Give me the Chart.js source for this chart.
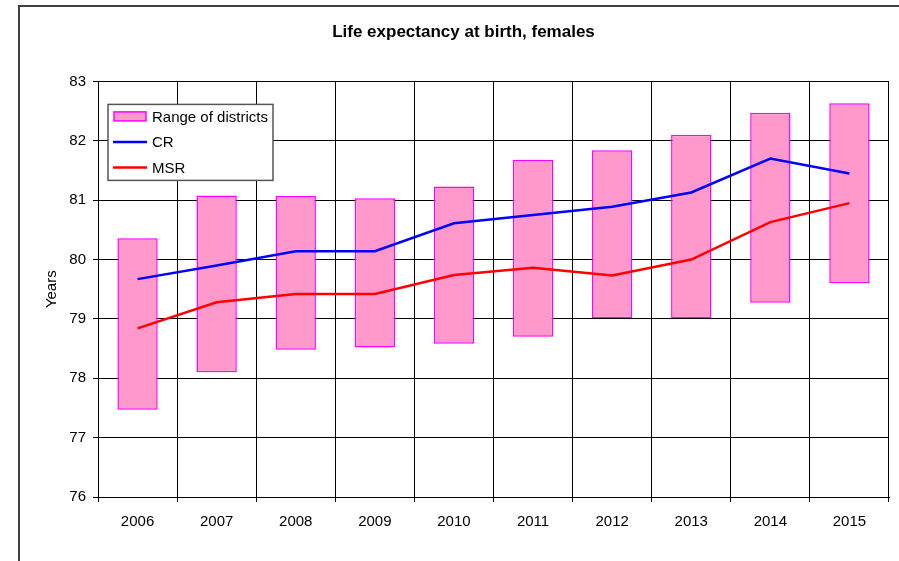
<!DOCTYPE html>
<html>
<head>
<meta charset="utf-8">
<title>Life expectancy at birth, females</title>
<script src="https://cdn.jsdelivr.net/npm/chart.js@4.4.0/dist/chart.umd.min.js"></script>
<style>
    html, body { margin: 0; padding: 0; background: #fff; }
    #wrap { width: 899px; height: 561px; position: relative; }
</style>
</head>
<body>
<div id="wrap"><canvas id="lifeExp"></canvas></div>
<script>
// datos
const years = ['2006', '2007', '2008', '2009', '2010', '2011', '2012', '2013', '2014', '2015'];
const rangeLow = [77.47, 78.10, 78.48, 78.52, 78.58, 78.70, 79.01, 79.01, 79.27, 79.60];
const rangeHigh = [80.36, 81.08, 81.07, 81.03, 81.23, 81.68, 81.84, 82.10, 82.47, 82.63];
const crValues = [79.67, 79.90, 80.14, 80.14, 80.61, 80.75, 80.89, 81.13, 81.70, 81.45];
const msrValues = [78.84, 79.28, 79.42, 79.42, 79.74, 79.86, 79.73, 80.00, 80.63, 80.95];

const fontFamily = '"Liberation Sans", Arial, sans-serif';
Chart.defaults.color = '#000';
Chart.defaults.font.family = fontFamily;

// marco exterior del grafico
const framePlugin = {
    id: 'frame',
    beforeDraw(chart) {
        const ctx = chart.ctx;
        ctx.save();
        ctx.fillStyle = '#fff';
        ctx.fillRect(0, 0, chart.width, chart.height);
        ctx.strokeStyle = '#404040';
        ctx.lineWidth = 2;
        ctx.beginPath();
        ctx.moveTo(chart.width, 6);
        ctx.lineTo(19, 6);
        ctx.lineTo(19, chart.height);
        ctx.stroke();
        ctx.restore();
    }
};

// leyenda dentro del area del grafico, con recuadro
const boxLegend = {
    id: 'boxLegend',
    afterDatasetsDraw(chart) {
        const ctx = chart.ctx;
        const area = chart.chartArea;
        const x = area.left + 10;
        const y = area.top + 23;
        const w = 165;
        const h = 76;
        ctx.save();
        ctx.fillStyle = '#fff';
        ctx.fillRect(x, y, w, h);
        ctx.strokeStyle = '#555';
        ctx.lineWidth = 1.5;
        ctx.strokeRect(x, y, w, h);
        ctx.font = '15px ' + fontFamily;
        ctx.textBaseline = 'middle';
        ctx.fillStyle = '#000';
        const items = chart.data.datasets;
        // orden: barras, CR, MSR
        items.forEach((ds, i) => {
            const cy = y + 12 + i * 25.5;
            if (ds.type === 'bar') {
                ctx.fillStyle = ds.backgroundColor;
                ctx.fillRect(x + 6, cy - 4.5, 32, 9);
                ctx.strokeStyle = ds.borderColor;
                ctx.lineWidth = 1.5;
                ctx.strokeRect(x + 6, cy - 4.5, 32, 9);
            } else {
                ctx.strokeStyle = ds.borderColor;
                ctx.lineWidth = 2.5;
                ctx.beginPath();
                ctx.moveTo(x + 5, cy);
                ctx.lineTo(x + 39, cy);
                ctx.stroke();
            }
            ctx.fillStyle = '#000';
            ctx.fillText(ds.label, x + 44, cy + 1);
        });
        ctx.restore();
    }
};

let ctx = document.getElementById('lifeExp');
new Chart(ctx, {
    data: {
        labels: years,
        datasets: [
            {
                type: 'bar',
                label: 'Range of districts',
                data: years.map((y, i) => [rangeLow[i], rangeHigh[i]]),
                backgroundColor: '#FF99CC',
                borderColor: '#FF00FF',
                borderWidth: 1.5,
                borderSkipped: false,
                barPercentage: 0.51,
                categoryPercentage: 1,
                order: 3,
            },
            {
                type: 'line',
                label: 'CR',
                data: crValues,
                borderColor: '#0000FF',
                backgroundColor: '#0000FF',
                borderWidth: 2.5,
                pointRadius: 0,
                tension: 0,
                order: 2,
            },
            {
                type: 'line',
                label: 'MSR',
                data: msrValues,
                borderColor: '#FF0000',
                backgroundColor: '#FF0000',
                borderWidth: 2.5,
                pointRadius: 0,
                tension: 0,
                order: 1,
            },
        ],
    },
    options: {
        responsive: true,
        maintainAspectRatio: false,
        animation: false,
        layout: { padding: { left: 38, right: 10, top: 0, bottom: 0 } },
        scales: {
            x: {
                offset: true,
                grid: { color: '#000', lineWidth: 1, offset: true, tickLength: 5 },
                border: { color: '#000', width: 1 },
                ticks: { font: { size: 15 }, padding: 11, maxRotation: 0 },
                afterFit(scale) { scale.height = 64; },
            },
            y: {
                min: 76,
                max: 83,
                ticks: { stepSize: 1, font: { size: 15 }, padding: 7 },
                grid: { color: '#000', lineWidth: 1, tickLength: 5 },
                border: { color: '#000', width: 1 },
                title: { display: true, text: 'Years', font: { size: 15 }, padding: 5 },
                afterFit(scale) { scale.width = 60; },
            },
        },
        plugins: {
            legend: { display: false },
            tooltip: { enabled: false },
            title: {
                display: true,
                text: 'Life expectancy at birth, females',
                font: { size: 17, weight: 'bold' },
                padding: { top: 22, bottom: 39 },
            },
        },
    },
    plugins: [framePlugin, boxLegend],
});
</script>
</body>
</html>
